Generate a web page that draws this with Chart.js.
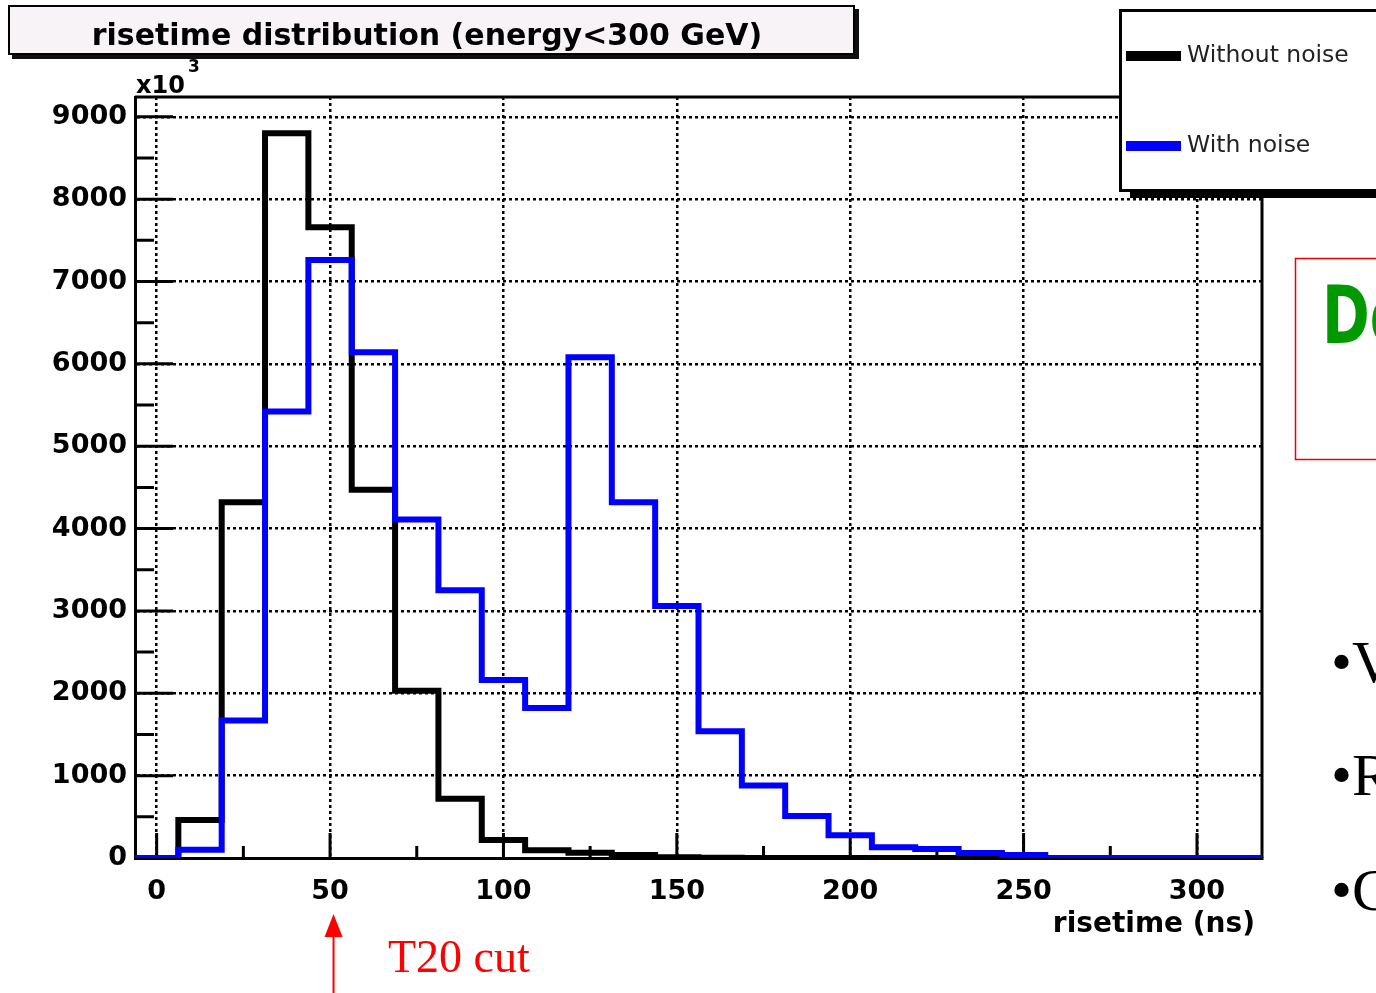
<!DOCTYPE html>
<html>
<head>
<meta charset="utf-8">
<script src="https://cdn.jsdelivr.net/npm/chart.js@4.4.1/dist/chart.umd.min.js"></script>
<style>
  html, body { margin: 0; padding: 0; background: #fff; }
  #wrap { position: relative; width: 1376px; height: 993px; overflow: hidden; }
</style>
</head>
<body>
<div id="wrap"><canvas id="risetimeChart" width="1376" height="993"></canvas></div>
<script>
// bin centres of the risetime histogram (ns), bins are 12.5 ns wide
const binCenters = [0, 12.5, 25, 37.5, 50, 62.5, 75, 87.5, 100, 112.5, 125, 137.5, 150,
                    162.5, 175, 187.5, 200, 212.5, 225, 237.5, 250, 262.5, 275, 287.5, 300, 312.5];
const binWidth = 12.5;

// entries per bin, in units of 10^3
const withoutNoise = [0, 460, 4320, 8800, 7660, 4470, 2030, 720, 220, 95, 65, 35, 10,
                      3, 0, 0, 0, 0, 0, 0, 0, 0, 0, 0, 0, 0];
const withNoise = [0, 100, 1670, 5420, 7260, 6140, 4110, 3250, 2160, 1820, 6080, 4320, 3060,
                   1540, 880, 510, 275, 130, 110, 60, 36, 0, 0, 0, 0, 0];

const xTicks = [0, 50, 100, 150, 200, 250, 300];
const xMinorTicks = [25, 75, 125, 175, 225, 275];
const yTicks = [0, 1000, 2000, 3000, 4000, 5000, 6000, 7000, 8000, 9000];
const yMinorTicks = [500, 1500, 2500, 3500, 4500, 5500, 6500, 7500, 8500];

// turn bin contents into step points (left edge of every bin + the last right edge)
function histPoints(values) {
    const pts = values.map((v, i) => ({ x: binCenters[i] - binWidth / 2, y: v }));
    const last = binCenters.length - 1;
    pts.push({ x: binCenters[last] + binWidth / 2, y: values[last] });
    return pts;
}

// ROOT style extras: inner ticks, frame, title box, legend box and the slide bits
const rootDecor = {
    id: 'rootDecor',
    beforeDatasetsDraw(chart) {
        const { ctx, chartArea: a, scales: { x, y } } = chart;
        ctx.save();
        ctx.strokeStyle = '#000';
        ctx.lineWidth = 3;
        ctx.beginPath();
        yTicks.forEach(v => { const p = y.getPixelForValue(v); ctx.moveTo(a.left, p); ctx.lineTo(a.left + 38, p); });
        yMinorTicks.forEach(v => { const p = y.getPixelForValue(v); ctx.moveTo(a.left, p); ctx.lineTo(a.left + 19, p); });
        xTicks.forEach(v => { const p = x.getPixelForValue(v); ctx.moveTo(p, a.bottom); ctx.lineTo(p, a.bottom - 25); });
        xMinorTicks.forEach(v => { const p = x.getPixelForValue(v); ctx.moveTo(p, a.bottom); ctx.lineTo(p, a.bottom - 12); });
        ctx.stroke();
        // top and right side of the frame
        ctx.beginPath();
        ctx.moveTo(a.left, a.top);
        ctx.lineTo(a.right, a.top);
        ctx.lineTo(a.right, a.bottom);
        ctx.stroke();
        ctx.restore();
    },
    afterDraw(chart) {
        const { ctx, chartArea: a } = chart;
        ctx.save();

        // title box with shadow
        ctx.fillStyle = '#111';
        ctx.fillRect(12, 9, 847, 50);
        ctx.fillStyle = '#f7f3f7';
        ctx.fillRect(8, 5, 847, 50);
        ctx.strokeStyle = '#000';
        ctx.lineWidth = 2;
        ctx.strokeRect(9, 6, 845, 48);
        ctx.fillStyle = '#000';
        ctx.font = 'bold 30px "DejaVu Sans"';
        ctx.textAlign = 'center';
        ctx.textBaseline = 'alphabetic';
        ctx.fillText('risetime distribution (energy<300 GeV)', 427, 45);

        // exponent of the y axis
        ctx.textAlign = 'left';
        ctx.font = 'bold 24px "DejaVu Sans"';
        ctx.fillText('x10', 136, 93);
        ctx.font = 'bold 17px "DejaVu Sans"';
        ctx.fillText('3', 188, 72);

        // x axis title
        ctx.textAlign = 'right';
        ctx.font = 'bold 28px "DejaVu Sans"';
        ctx.fillText('risetime (ns)', a.right - 7, 932);

        // legend box
        ctx.fillStyle = '#000';
        ctx.fillRect(1130, 188, 260, 10);
        ctx.fillStyle = '#fff';
        ctx.fillRect(1120, 10, 270, 180);
        ctx.strokeStyle = '#000';
        ctx.lineWidth = 3;
        ctx.strokeRect(1120.5, 10.5, 270, 180);
        chart.data.datasets.forEach((ds, i) => {
            const ly = 56 + i * 90;
            ctx.strokeStyle = ds.borderColor;
            ctx.lineWidth = 10;
            ctx.beginPath();
            ctx.moveTo(1126, ly);
            ctx.lineTo(1181, ly);
            ctx.stroke();
            ctx.fillStyle = '#222';
            ctx.font = '23.5px "DejaVu Sans"';
            ctx.textAlign = 'left';
            ctx.textBaseline = 'middle';
            ctx.fillText(ds.label, 1187, ly);
        });

        // T20 cut marker
        const xCut = chart.scales.x.getPixelForValue(51);
        ctx.strokeStyle = '#f00';
        ctx.fillStyle = '#f00';
        ctx.lineWidth = 2;
        ctx.beginPath();
        ctx.moveTo(xCut, 993);
        ctx.lineTo(xCut, 934);
        ctx.stroke();
        ctx.beginPath();
        ctx.moveTo(xCut, 914);
        ctx.lineTo(xCut - 9, 937);
        ctx.lineTo(xCut + 9, 937);
        ctx.closePath();
        ctx.fill();
        ctx.font = '46px "Liberation Serif"';
        ctx.textAlign = 'left';
        ctx.textBaseline = 'alphabetic';
        ctx.fillText('T20 cut', 388, 972);

        // pieces of the slide on the right
        ctx.strokeStyle = '#e00';
        ctx.lineWidth = 1.5;
        ctx.strokeRect(1295.5, 258.5, 200, 201);
        ctx.save();
        ctx.translate(1322, 343);
        ctx.scale(0.72, 1);
        ctx.fillStyle = '#009a00';
        ctx.font = 'bold 80px "DejaVu Sans"';
        ctx.fillText('De', 0, 0);
        ctx.restore();
        ctx.fillStyle = '#000';
        ctx.font = '60px "Liberation Serif"';
        ctx.fillText('\u2022V', 1331, 682);
        ctx.fillText('\u2022R', 1331, 795);
        ctx.fillText('\u2022C', 1331, 910);

        ctx.restore();
    }
};

const tickFont = { family: 'DejaVu Sans', weight: 'bold', size: 27 };
const gridStyle = { color: '#000', lineWidth: 2.5, drawTicks: false };
const borderStyle = { color: '#000', width: 3, dash: [3, 3] };

const chart = new Chart(document.getElementById('risetimeChart').getContext('2d'), {
    type: 'line',
    data: {
        datasets: [
            {
                label: 'Without noise',
                data: histPoints(withoutNoise),
                borderColor: '#000000',
                borderWidth: 6,
                stepped: 'before',
                pointRadius: 0,
                fill: false,
                order: 1,
                borderJoinStyle: 'miter'
            },
            {
                label: 'With noise',
                data: histPoints(withNoise),
                borderColor: '#0000ff',
                borderWidth: 6,
                stepped: 'before',
                pointRadius: 0,
                fill: false,
                order: 0,
                borderJoinStyle: 'miter'
            }
        ]
    },
    options: {
        responsive: false,
        animation: false,
        devicePixelRatio: 1,
        layout: { padding: { top: 97, right: 114, left: 0, bottom: 0 } },
        plugins: {
            legend: { display: false },
            tooltip: { enabled: false },
            title: { display: false }
        },
        scales: {
            x: {
                type: 'linear',
                min: -6.25,
                max: 318.75,
                afterBuildTicks: s => { s.ticks = xTicks.map(v => ({ value: v })); },
                afterFit: s => { s.height = 135; },
                ticks: { font: tickFont, color: '#000', padding: 18, autoSkip: false, maxRotation: 0,
                         callback: v => String(v) },
                grid: gridStyle,
                border: borderStyle
            },
            y: {
                type: 'linear',
                min: 0,
                max: 9240,
                afterBuildTicks: s => { s.ticks = yTicks.map(v => ({ value: v })); },
                afterFit: s => { s.width = 135; },
                ticks: { font: tickFont, color: '#000', padding: 8, callback: v => String(v) },
                grid: gridStyle,
                border: borderStyle
            }
        }
    },
    plugins: [rootDecor]
});
</script>
</body>
</html>
